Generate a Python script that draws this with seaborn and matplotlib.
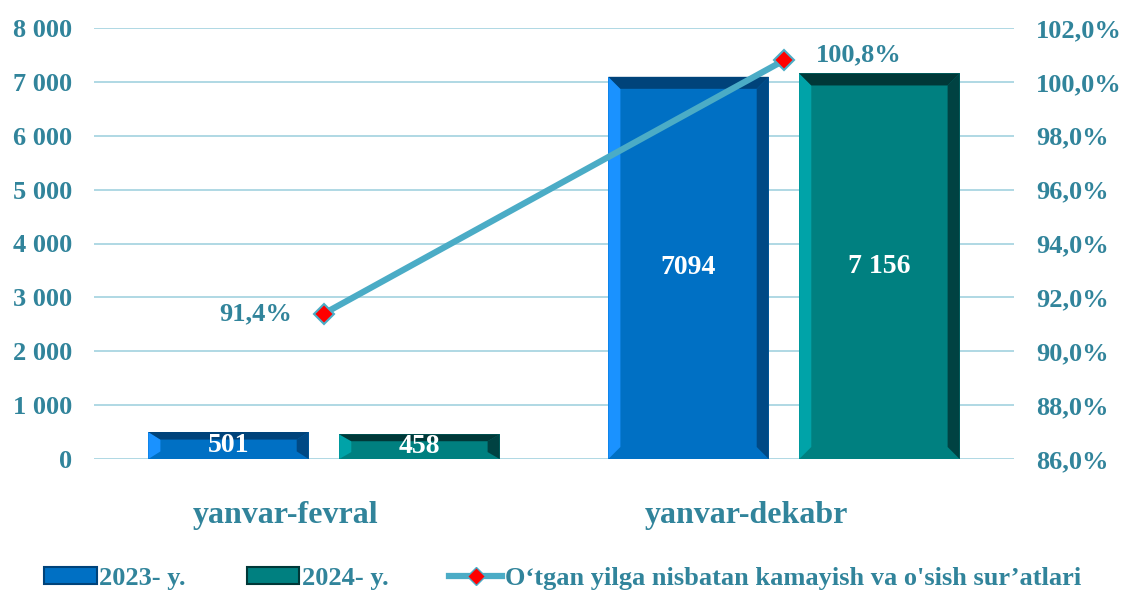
import pandas as pd
import seaborn as sns
import matplotlib.pyplot as plt
import matplotlib.transforms as mtransforms
from matplotlib.patches import Polygon, Patch
from matplotlib.lines import Line2D
from matplotlib.ticker import FuncFormatter

periods = ['yanvar-fevral', 'yanvar-dekabr']
years = ['2023- y.', '2024- y.']
values_2023 = [501, 7094]
values_2024 = [458, 7156]
bar_labels_2023 = ['501', '7094']
bar_labels_2024 = ['458', '7 156']
growth = [91.4, 100.8]
growth_labels = ['91,4%', '100,8%']
line_name = 'O‘tgan yilga nisbatan kamayish va o\'sish sur’atlari'

teal = '#31849B'
grid_c = '#A9D5E2'
line_c = '#4BACC6'
bar_colors = ['#0070C4', '#008080']
light = ['#1A92FF', '#00A3A8']
dark = ['#00437A', '#003838']

plt.rcParams['font.family'] = ['Liberation Serif', 'DejaVu Serif']
plt.rcParams['font.weight'] = 'bold'

df = pd.DataFrame({
    'period': periods * 2,
    'year': [years[0]] * 2 + [years[1]] * 2,
    'value': values_2023 + values_2024,
})

fig = plt.figure(figsize=(11.25, 5.96), dpi=100)
ax = fig.add_axes([94 / 1125, 137 / 596, 920 / 1125, 431 / 596])

sns.barplot(data=df, x='period', y='value', hue='year', order=periods,
            hue_order=years, palette=bar_colors, saturation=1, width=0.83,
            gap=0.16, legend=False, ax=ax, zorder=3)

ax.set_ylim(0, 8000)
ax.set_yticks(range(0, 8001, 1000))
ax.yaxis.set_major_formatter(FuncFormatter(lambda v, p: f'{int(v):,}'.replace(',', ' ')))
ax.grid(axis='y', color=grid_c, lw=1.3, zorder=0)
ax.set_axisbelow(True)
for s in ax.spines.values():
    s.set_visible(False)
ax.tick_params(axis='y', length=0, pad=16, labelsize=19, labelcolor=teal)
ax.tick_params(axis='x', length=0, pad=30, labelsize=23, labelcolor=teal)
ax.set_xlabel('')
ax.set_ylabel('')
# category labels sit a bit left of the group centre in the original
shift = mtransforms.ScaledTranslation(-38 / 100, 0, fig.dpi_scale_trans)
for lab in ax.get_xticklabels():
    lab.set_transform(lab.get_transform() + shift)

# bevel effect + value labels
labels = [bar_labels_2023, bar_labels_2024]
for i, cont in enumerate(ax.containers):
    for j, p in enumerate(cont.patches):
        x0, y0 = p.get_x(), p.get_y()
        w, h = p.get_width(), p.get_height()
        bx = w * 0.075
        by = min(h * 0.28, 8000 / 431 * 12)
        ax.add_patch(Polygon([(x0, y0), (x0 + bx, y0 + by), (x0 + bx, y0 + h - by),
                              (x0, y0 + h)], closed=True, color=light[i], zorder=3.5, lw=0))
        ax.add_patch(Polygon([(x0, y0 + h), (x0 + bx, y0 + h - by), (x0 + w - bx, y0 + h - by),
                              (x0 + w, y0 + h)], closed=True, color=dark[i], zorder=3.5, lw=0))
        ax.add_patch(Polygon([(x0 + w, y0 + h), (x0 + w - bx, y0 + h - by), (x0 + w - bx, y0 + by),
                              (x0 + w, y0)], closed=True, color=dark[i], zorder=3.5, lw=0, alpha=0.85))
        ax.text(x0 + w / 2, y0 + h / 2, labels[i][j], ha='center', va='center',
                color='white', fontsize=20, fontweight='bold', zorder=5)

ax2 = ax.twinx()
sns.lineplot(x=[0, 1], y=growth, ax=ax2, color=line_c, lw=4.5, marker='D',
             markersize=10, markerfacecolor='red', markeredgecolor=line_c,
             markeredgewidth=1.5, zorder=6)
ax2.set_ylim(86, 102)
ax2.set_yticks(range(86, 103, 2))
ax2.yaxis.set_major_formatter(FuncFormatter(lambda v, p: f'{v:.1f}%'.replace('.', ',')))
for s in ax2.spines.values():
    s.set_visible(False)
ax2.tick_params(axis='y', length=0, pad=16, labelsize=19, labelcolor=teal)
ax2.set_ylabel('')
ax2.text(0 - 0.07, growth[0], growth_labels[0], ha='right', va='center',
         color=teal, fontsize=19, fontweight='bold')
ax2.text(1 + 0.07, growth[1] + 0.2, growth_labels[1], ha='left', va='center',
         color=teal, fontsize=19, fontweight='bold')
ax.set_xlim(-0.5, 1.5)

handles = [Patch(facecolor=bar_colors[0], edgecolor=dark[0], lw=1.5),
           Patch(facecolor=bar_colors[1], edgecolor=dark[1], lw=1.5),
           Line2D([], [], color=line_c, lw=4.5, marker='D', markersize=9,
                  markerfacecolor='red', markeredgecolor=line_c)]
fig.legend(handles, years + [line_name], loc='lower center', ncol=3,
           bbox_to_anchor=(0.5, -0.03), frameon=False, fontsize=19,
           labelcolor=teal, handlelength=2.0, handleheight=0.6,
           handletextpad=0.1, columnspacing=2.3)

fig.savefig('out.png', dpi=100)
